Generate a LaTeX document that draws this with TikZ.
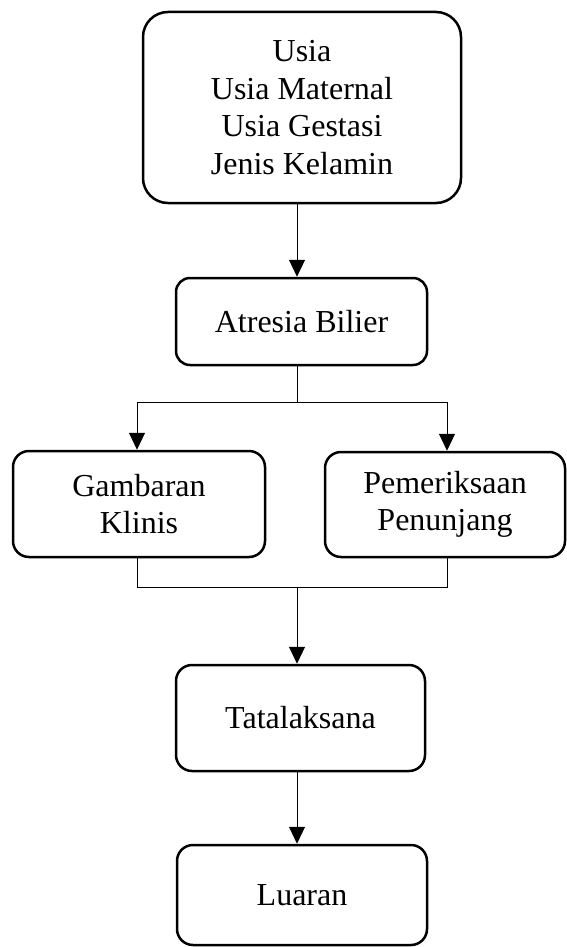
\documentclass[tikz,border=0pt]{standalone}
\usepackage{fontspec}
\setmainfont{Liberation Serif}
\usetikzlibrary{arrows.meta}
\tikzset{
  box/.style={draw, line width=2.5pt, inner sep=0pt, align=center,
    font=\fontsize{32}{37.5}\selectfont, rounded corners=#1},
  box/.default=16pt,
  conn/.style={line width=1pt},
  arr/.style={conn, -{Triangle[width=16pt,length=17pt]}}
}
\begin{document}
\begin{tikzpicture}[x=1pt,y=-1pt]
\useasboundingbox (0,0) rectangle (567,947);
\coordinate (cx) at (297,0);
\node[box=25pt, minimum width=318pt, minimum height=191pt] (top) at (302,107.5)
  {Usia\\Usia Maternal\\Usia Gestasi\\Jenis Kelamin};
\node[box=14pt, minimum width=251pt, minimum height=87pt] (atr) at (301.5,321.5) {Atresia Bilier};
\node[box, minimum width=252pt, minimum height=106pt] (gam) at (139,504) {Gambaran\\Klinis};
\node[box, minimum width=240pt, minimum height=105pt] (pem) at (445,504.5) {Pemeriksaan\\Penunjang};
\node[box, minimum width=249pt, minimum height=106pt] (tat) at (300.5,718) {Tatalaksana};
\node[box, minimum width=250pt, minimum height=100pt] (lua) at (302,895) {Luaran};
\coordinate (split) at (297,402);
\coordinate (join) at (297,587);
\coordinate (gx) at (137,0);
\coordinate (px) at (447,0);
% top -> atresia
\draw[arr] (top.south -| cx) -- (atr.north -| cx);
% atresia -> split
\draw[conn] (atr.south -| cx) -- (split);
\draw[conn] (split -| gx) -- (split -| px);
\draw[arr] (split -| gx) -- (gam.north -| gx);
\draw[arr] (split -| px) -- (pem.north -| px);
% join
\draw[conn] (gam.south -| gx) -- (join -| gx) -- (join -| px) -- (pem.south -| px);
\draw[arr] (join) -- (tat.north -| cx);
\draw[arr] (tat.south -| cx) -- (lua.north -| cx);
\end{tikzpicture}
\end{document}
